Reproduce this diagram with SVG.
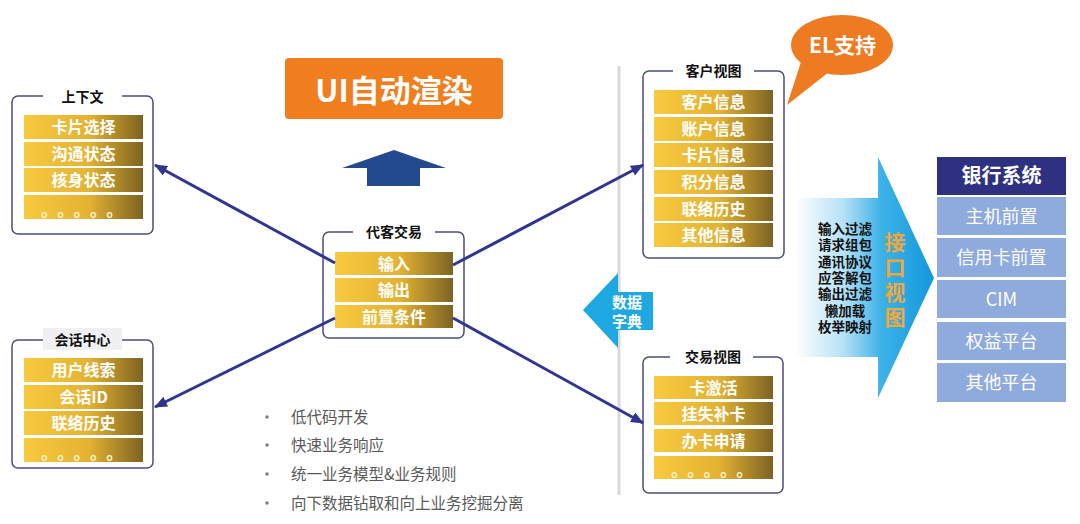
<svg xmlns="http://www.w3.org/2000/svg" width="1080" height="524" viewBox="0 0 1080 524">
<defs>
<linearGradient id="gold" x1="0" y1="0" x2="1" y2="0">
<stop offset="0" stop-color="#f8ca3e"/>
<stop offset="0.55" stop-color="#e3b232"/>
<stop offset="1" stop-color="#7d6322"/>
</linearGradient>
<linearGradient id="blueArrow" gradientUnits="userSpaceOnUse" x1="795" y1="0" x2="934" y2="0">
<stop offset="0" stop-color="#ffffff"/>
<stop offset="0.35" stop-color="#b5e1f6"/>
<stop offset="0.62" stop-color="#3db2e8"/>
<stop offset="1" stop-color="#1298dc"/>
</linearGradient>
<marker id="arr" markerUnits="userSpaceOnUse" markerWidth="13" markerHeight="11" refX="12" refY="5.5" orient="auto">
<path d="M0,0 L13,5.5 L0,11 Z" fill="#2f3590"/>
</marker>
</defs>
<style>
.box{fill:#ffffff;stroke:#4b4e7c;stroke-width:1.5}
.gap{fill:#ffffff}
.ttl{font-family:"Noto Sans CJK SC","Liberation Sans",sans-serif;font-size:14px;font-weight:bold;fill:#111111;text-anchor:middle}
.row{fill:url(#gold)}
.lbl{font-family:"Noto Sans CJK SC","Liberation Sans",sans-serif;font-size:16px;font-weight:bold;fill:#ffffff;text-anchor:middle}
.dots{font-family:"Noto Sans CJK SC",sans-serif;font-size:17px;font-weight:bold;fill:#fff6d8;letter-spacing:7.8px}
.conn{stroke:#2f3590;stroke-width:3;fill:none;marker-end:url(#arr)}
.bank{fill:#8faadc}
.bankt{font-family:"Noto Sans CJK SC","Liberation Sans",sans-serif;font-size:18px;fill:#ffffff;text-anchor:middle}
.ift{font-family:"Noto Sans CJK SC",sans-serif;font-size:13.5px;font-weight:bold;fill:#111111;text-anchor:middle}
.vt{font-family:"Noto Sans CJK SC",sans-serif;font-size:21px;font-weight:bold;fill:#f0a83a;text-anchor:middle}
.bul{font-family:"Noto Sans CJK SC",sans-serif;font-size:15.5px;fill:#595959}
</style>
<rect width="1080" height="524" fill="#ffffff"/>

<line x1="619" y1="66" x2="619" y2="495" stroke="#d9d9d9" stroke-width="3"/>

<g id="ui-render">
<rect x="285" y="58" width="218" height="61" rx="4" fill="#f07e1f"/>
<text x="394" y="102" font-family="Noto Sans CJK SC, Liberation Sans, sans-serif" font-size="31" font-weight="bold" fill="#ffffff" text-anchor="middle">UI自动渲染</text>
</g>

<g id="up-arrow">
<polygon points="394,150 446,168 420,168 420,186 367,186 367,168 342,168" fill="#23498f"/>
</g>

<g id="context">
<rect class="box" x="12" y="96" width="141" height="138" rx="6"/>
<rect class="gap" x="43" y="88" width="79" height="16"/>
<text class="ttl" x="82.5" y="102">上下文</text>
<rect class="row" x="24" y="115" width="119" height="24"/>
<text class="lbl" x="83.5" y="133">卡片选择</text>
<rect class="row" x="24" y="142" width="119" height="24"/>
<text class="lbl" x="83.5" y="160">沟通状态</text>
<rect class="row" x="24" y="168" width="119" height="24"/>
<text class="lbl" x="83.5" y="186">核身状态</text>
<rect class="row" x="24" y="195" width="119" height="24"/>
<text class="dots" x="41" y="216">。。。。。</text>
</g>

<g id="session">
<rect class="box" x="12" y="340" width="141" height="128" rx="6"/>
<rect x="43" y="328" width="79" height="22" fill="#f0f0f2"/>
<text class="ttl" x="82.5" y="345">会话中心</text>
<rect class="row" x="24" y="358" width="119" height="24"/>
<text class="lbl" x="83.5" y="376">用户线索</text>
<rect class="row" x="24" y="385" width="119" height="24"/>
<text class="lbl" x="83.5" y="403">会话ID</text>
<rect class="row" x="24" y="411" width="119" height="24"/>
<text class="lbl" x="83.5" y="429">联络历史</text>
<rect class="row" x="24" y="438" width="119" height="24"/>
<text class="dots" x="41" y="459">。。。。。</text>
</g>

<g id="proxy-trade">
<rect class="box" x="323" y="232" width="141" height="106" rx="6"/>
<rect class="gap" x="353" y="224" width="82" height="16"/>
<text class="ttl" x="394" y="237">代客交易</text>
<rect class="row" x="335" y="252" width="118" height="23"/>
<text class="lbl" x="394" y="269.5">输入</text>
<rect class="row" x="335" y="278" width="118" height="24"/>
<text class="lbl" x="394" y="296">输出</text>
<rect class="row" x="335" y="305" width="118" height="23"/>
<text class="lbl" x="394" y="322.5">前置条件</text>
</g>

<g id="customer-view">
<rect class="box" x="643" y="71" width="141" height="187" rx="6"/>
<rect class="gap" x="673" y="63" width="81" height="16"/>
<text class="ttl" x="713.5" y="76">客户视图</text>
<rect class="row" x="654" y="90" width="119" height="24"/>
<text class="lbl" x="713.5" y="108">客户信息</text>
<rect class="row" x="654" y="117" width="119" height="24"/>
<text class="lbl" x="713.5" y="135">账户信息</text>
<rect class="row" x="654" y="143" width="119" height="24"/>
<text class="lbl" x="713.5" y="161">卡片信息</text>
<rect class="row" x="654" y="170" width="119" height="24"/>
<text class="lbl" x="713.5" y="188">积分信息</text>
<rect class="row" x="654" y="197" width="119" height="24"/>
<text class="lbl" x="713.5" y="215">联络历史</text>
<rect class="row" x="654" y="223" width="119" height="24"/>
<text class="lbl" x="713.5" y="241">其他信息</text>
</g>

<g id="trade-view">
<rect class="box" x="643" y="357" width="140" height="136" rx="6"/>
<rect class="gap" x="670" y="349" width="83" height="16"/>
<text class="ttl" x="713" y="362">交易视图</text>
<rect class="row" x="654" y="376" width="119" height="23"/>
<text class="lbl" x="713.5" y="393.5">卡激活</text>
<rect class="row" x="654" y="402" width="119" height="23"/>
<text class="lbl" x="713.5" y="419.5">挂失补卡</text>
<rect class="row" x="654" y="429" width="119" height="23"/>
<text class="lbl" x="713.5" y="446.5">办卡申请</text>
<rect class="row" x="654" y="456" width="119" height="23"/>
<text class="dots" x="671" y="476">。。。。。</text>
</g>

<g id="el-support">
<path d="M801,62 L787,105 L829,72 Z" fill="#ee7a22"/>
<ellipse cx="842" cy="45" rx="51" ry="30" fill="#ee7a22"/>
<text x="842.5" y="52.5" font-family="Noto Sans CJK SC, Liberation Sans, sans-serif" font-size="21" font-weight="bold" fill="#ffffff" text-anchor="middle">EL支持</text>
</g>

<g id="data-dictionary">
<polygon points="583,310 618,273 618,292 653,292 653,330 618,330 618,348" fill="#1ea8e2"/>
<text x="627" y="308" font-family="Noto Sans CJK SC, sans-serif" font-size="15" font-weight="bold" fill="#ffffff" text-anchor="middle">数据</text>
<text x="627" y="327" font-family="Noto Sans CJK SC, sans-serif" font-size="15" font-weight="bold" fill="#ffffff" text-anchor="middle">字典</text>
</g>

<g id="interface-view">
<polygon points="795,198 878,198 878,157 934,278 878,398 878,357 795,357" fill="url(#blueArrow)"/>
<text class="ift" x="845" y="234">输入过滤</text>
<text class="ift" x="845" y="250.3">请求组包</text>
<text class="ift" x="845" y="266.7">通讯协议</text>
<text class="ift" x="845" y="283">应答解包</text>
<text class="ift" x="845" y="299.3">输出过滤</text>
<text class="ift" x="845" y="315.7">懒加载</text>
<text class="ift" x="845" y="332">枚举映射</text>
<text class="vt" x="895" y="249.5">接</text>
<text class="vt" x="895" y="274.5">口</text>
<text class="vt" x="895" y="299.5">视</text>
<text class="vt" x="895" y="324.5">图</text>
</g>

<g id="bank-system">
<rect x="937" y="157" width="129" height="38" fill="#2d3180"/>
<text x="1001.5" y="183" font-family="Noto Sans CJK SC, sans-serif" font-size="20" font-weight="bold" fill="#ffffff" text-anchor="middle">银行系统</text>
<rect class="bank" x="937" y="197" width="129" height="38"/>
<text class="bankt" x="1001.5" y="222.5">主机前置</text>
<rect class="bank" x="937" y="238" width="129" height="39"/>
<text class="bankt" x="1001.5" y="264">信用卡前置</text>
<rect class="bank" x="937" y="280" width="129" height="38"/>
<text class="bankt" x="1001.5" y="305.5">CIM</text>
<rect class="bank" x="937" y="322" width="129" height="38"/>
<text class="bankt" x="1001.5" y="347.5">权益平台</text>
<rect class="bank" x="937" y="363" width="129" height="39"/>
<text class="bankt" x="1001.5" y="389">其他平台</text>
</g>

<g id="connectors">
<line class="conn" x1="335" y1="263" x2="155" y2="165"/>
<line class="conn" x1="335" y1="318" x2="155" y2="407"/>
<line class="conn" x1="453" y1="265" x2="643" y2="165"/>
<line class="conn" x1="453" y1="318" x2="643" y2="423"/>
</g>

<g id="bullets">
<circle cx="267" cy="417" r="1.8" fill="#808080"/>
<text class="bul" x="291" y="422.5">低代码开发</text>
<circle cx="267" cy="445" r="1.8" fill="#808080"/>
<text class="bul" x="291" y="450.5">快速业务响应</text>
<circle cx="267" cy="474" r="1.8" fill="#808080"/>
<text class="bul" x="291" y="479.5">统一业务模型&amp;业务规则</text>
<circle cx="267" cy="503" r="1.8" fill="#808080"/>
<text class="bul" x="291" y="508.5">向下数据钻取和向上业务挖掘分离</text>
</g>
</svg>
